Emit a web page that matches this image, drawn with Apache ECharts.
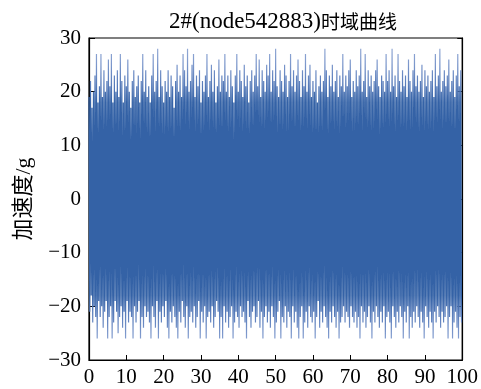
<!DOCTYPE html>
<html>
<head>
<meta charset="utf-8">
<script src="https://cdn.jsdelivr.net/npm/echarts@6/dist/echarts.min.js"></script>
<style>html,body{margin:0;padding:0;background:#fff;}#c{width:481px;height:389px;}</style>
</head>
<body>
<div id="c"></div>
<script>
const titleLatin = '2#(node542883)';
const titleCJK = '时域曲线';
const yName = '加速度/g';
const xTicks = [0, 10, 20, 30, 40, 50, 60, 70, 80, 90, 100];
const yTicks = [-30, -20, -10, 0, 10, 20, 30];
const binWidth = 0.4; // time span of each envelope bin
// positive peak per time bin
const upperPeaks = [
19,22,17,20,23,27,18,21,27,19,
24,20,22,26,21,27,18,23,20,24,
19,27,22,18,23,21,26,20,17,22,
24,19,21,23,18,22,27,20,24,19,
21,18,23,27,20,22,28,19,24,21,
18,22,20,24,19,23,21,17,22,25,
20,23,19,27,24,21,28,20,22,25,
27,19,23,21,24,18,22,20,23,27,
19,22,25,20,24,18,21,26,20,23,
22,27,20,23,19,24,21,18,23,27,
20,24,22,19,25,21,23,18,22,24,
20,23,27,21,26,19,24,22,20,25,
23,27,20,24,22,28,21,19,24,22,
20,25,23,19,22,27,21,24,20,23,
26,22,19,24,21,27,20,23,25,19,
22,20,24,18,21,23,20,22,28,24,
19,23,21,25,20,22,24,19,23,21,
27,20,23,21,24,26,19,22,20,24,
21,23,28,20,22,27,19,24,21,23,
20,22,24,26,21,19,23,22,20,27,
22,24,20,28,21,23,19,27,22,20,
24,21,23,19,26,22,20,24,27,21,
23,20,22,25,19,24,21,23,20,22,
24,19,27,21,23,28,20,22,24,21,
23,26,20,22,24,19,23,27,21,24
];
// negative peak per time bin
const lowerPeaks = [
-21,-18,-23,-20,-22,-26,-19,-22,-20,-24,
-21,-19,-26,-22,-20,-26,-23,-19,-21,-25,
-22,-20,-24,-21,-26,-19,-23,-21,-22,-26,
-20,-23,-21,-19,-26,-22,-24,-20,-22,-21,
-23,-26,-20,-22,-24,-19,-26,-21,-23,-20,
-22,-19,-24,-26,-21,-23,-20,-22,-24,-26,
-21,-23,-19,-22,-24,-20,-26,-22,-21,-23,
-20,-24,-22,-19,-26,-21,-23,-20,-26,-22,
-21,-23,-20,-24,-22,-19,-21,-26,-22,-26,
-20,-23,-21,-24,-22,-20,-26,-23,-21,-22,
-24,-20,-22,-21,-23,-26,-19,-22,-24,-21,
-20,-23,-22,-19,-24,-21,-26,-22,-20,-23,
-21,-24,-20,-22,-26,-23,-21,-19,-26,-22,
-23,-20,-24,-21,-22,-26,-20,-23,-21,-24,
-26,-22,-20,-26,-23,-21,-24,-20,-22,-23,
-21,-26,-22,-19,-24,-21,-23,-20,-22,-24,
-26,-21,-23,-20,-22,-24,-21,-26,-23,-22,
-20,-23,-21,-22,-24,-20,-22,-23,-21,-24,
-22,-26,-20,-23,-21,-24,-22,-20,-23,-26,
-21,-23,-20,-22,-24,-21,-23,-20,-26,-22,
-21,-23,-26,-20,-22,-24,-21,-23,-20,-22,
-26,-21,-23,-20,-26,-22,-24,-21,-23,-20,
-22,-24,-21,-23,-26,-20,-22,-24,-21,-23,
-26,-21,-23,-20,-22,-24,-21,-23,-22,-20,
-26,-22,-20,-26,-23,-21,-24,-26,-22,-23
];

const signal = [];
for (let i = 0; i < upperPeaks.length; i++) {
  signal.push([i * binWidth, upperPeaks[i]]);
  signal.push([i * binWidth + binWidth / 2, lowerPeaks[i]]);
}

const gridTop = 38, gridBottom = 29, H = 389;
const serif = '"Liberation Serif", "Noto Sans CJK SC", serif';
const fmt = v => String(v).replace('-', '\u2212');
const chart = echarts.init(document.getElementById('c'), null, {renderer: 'canvas'});
const lineGrad = new echarts.graphic.LinearGradient(0, gridTop, 0, H - gridBottom, [
  {offset: 0.00, color: '#9fb3da'},
  {offset: 0.08, color: '#7d98cc'},
  {offset: 0.15, color: '#5479b8'},
  {offset: 0.20, color: '#3462a6'},
  {offset: 0.80, color: '#3462a6'},
  {offset: 0.85, color: '#5479b8'},
  {offset: 0.92, color: '#7d98cc'},
  {offset: 1.00, color: '#9fb3da'}
], true);
chart.setOption({
  animation: false,
  backgroundColor: '#fff',
  title: {
    text: '{a|' + titleLatin + '}{b|' + titleCJK + '}', left: 278, top: 3, textAlign: 'center',
    textStyle: {
      fontWeight: 'normal',
      rich: {
        a: {fontFamily: serif, fontSize: 23, fontWeight: 'normal', color: '#000', lineHeight: 28, verticalAlign: 'middle'},
        b: {fontFamily: '"Noto Sans CJK SC", sans-serif', fontSize: 19, fontWeight: 'normal', color: '#000', lineHeight: 28, verticalAlign: 'middle'}
      }
    }
  },
  grid: {left: 89, right: 15, top: gridTop, bottom: gridBottom, show: true, borderColor: '#000', borderWidth: 1.2, backgroundColor: 'transparent'},
  xAxis: [{
    type: 'value', min: 0, max: 100, interval: 10,
    axisLine: {show: true, onZero: false, lineStyle: {color: '#000', width: 1.2}},
    axisTick: {show: true, inside: true, length: 5, lineStyle: {color: '#000'}},
    axisLabel: {fontFamily: serif, fontSize: 21, color: '#000', margin: 7, formatter: fmt},
    splitLine: {show: false}
  }],
  yAxis: [{
    type: 'value', min: -30, max: 30, interval: 10,
    name: yName, nameLocation: 'middle', nameGap: 54, nameRotate: 90,
    nameTextStyle: {fontFamily: serif, fontSize: 22, color: '#000'},
    axisLine: {show: true, onZero: false, lineStyle: {color: '#000', width: 1.2}},
    axisTick: {show: true, inside: true, length: 6, lineStyle: {color: '#000'}},
    axisLabel: {fontFamily: serif, fontSize: 21, color: '#000', margin: 8, formatter: fmt},
    splitLine: {show: false}
  }, {
    type: 'value', min: -30, max: 30, interval: 10, position: 'right',
    axisLine: {show: true, onZero: false, lineStyle: {color: '#000', width: 1.2}},
    axisTick: {show: true, inside: true, length: 5, lineStyle: {color: '#000'}},
    axisLabel: {show: false}, splitLine: {show: false}
  }],
  series: [{
    type: 'line', data: signal, showSymbol: false, symbol: 'none',
    sampling: null, silent: true,
    lineStyle: {color: lineGrad, width: 1.2}
  }]
});
</script>
</body>
</html>
